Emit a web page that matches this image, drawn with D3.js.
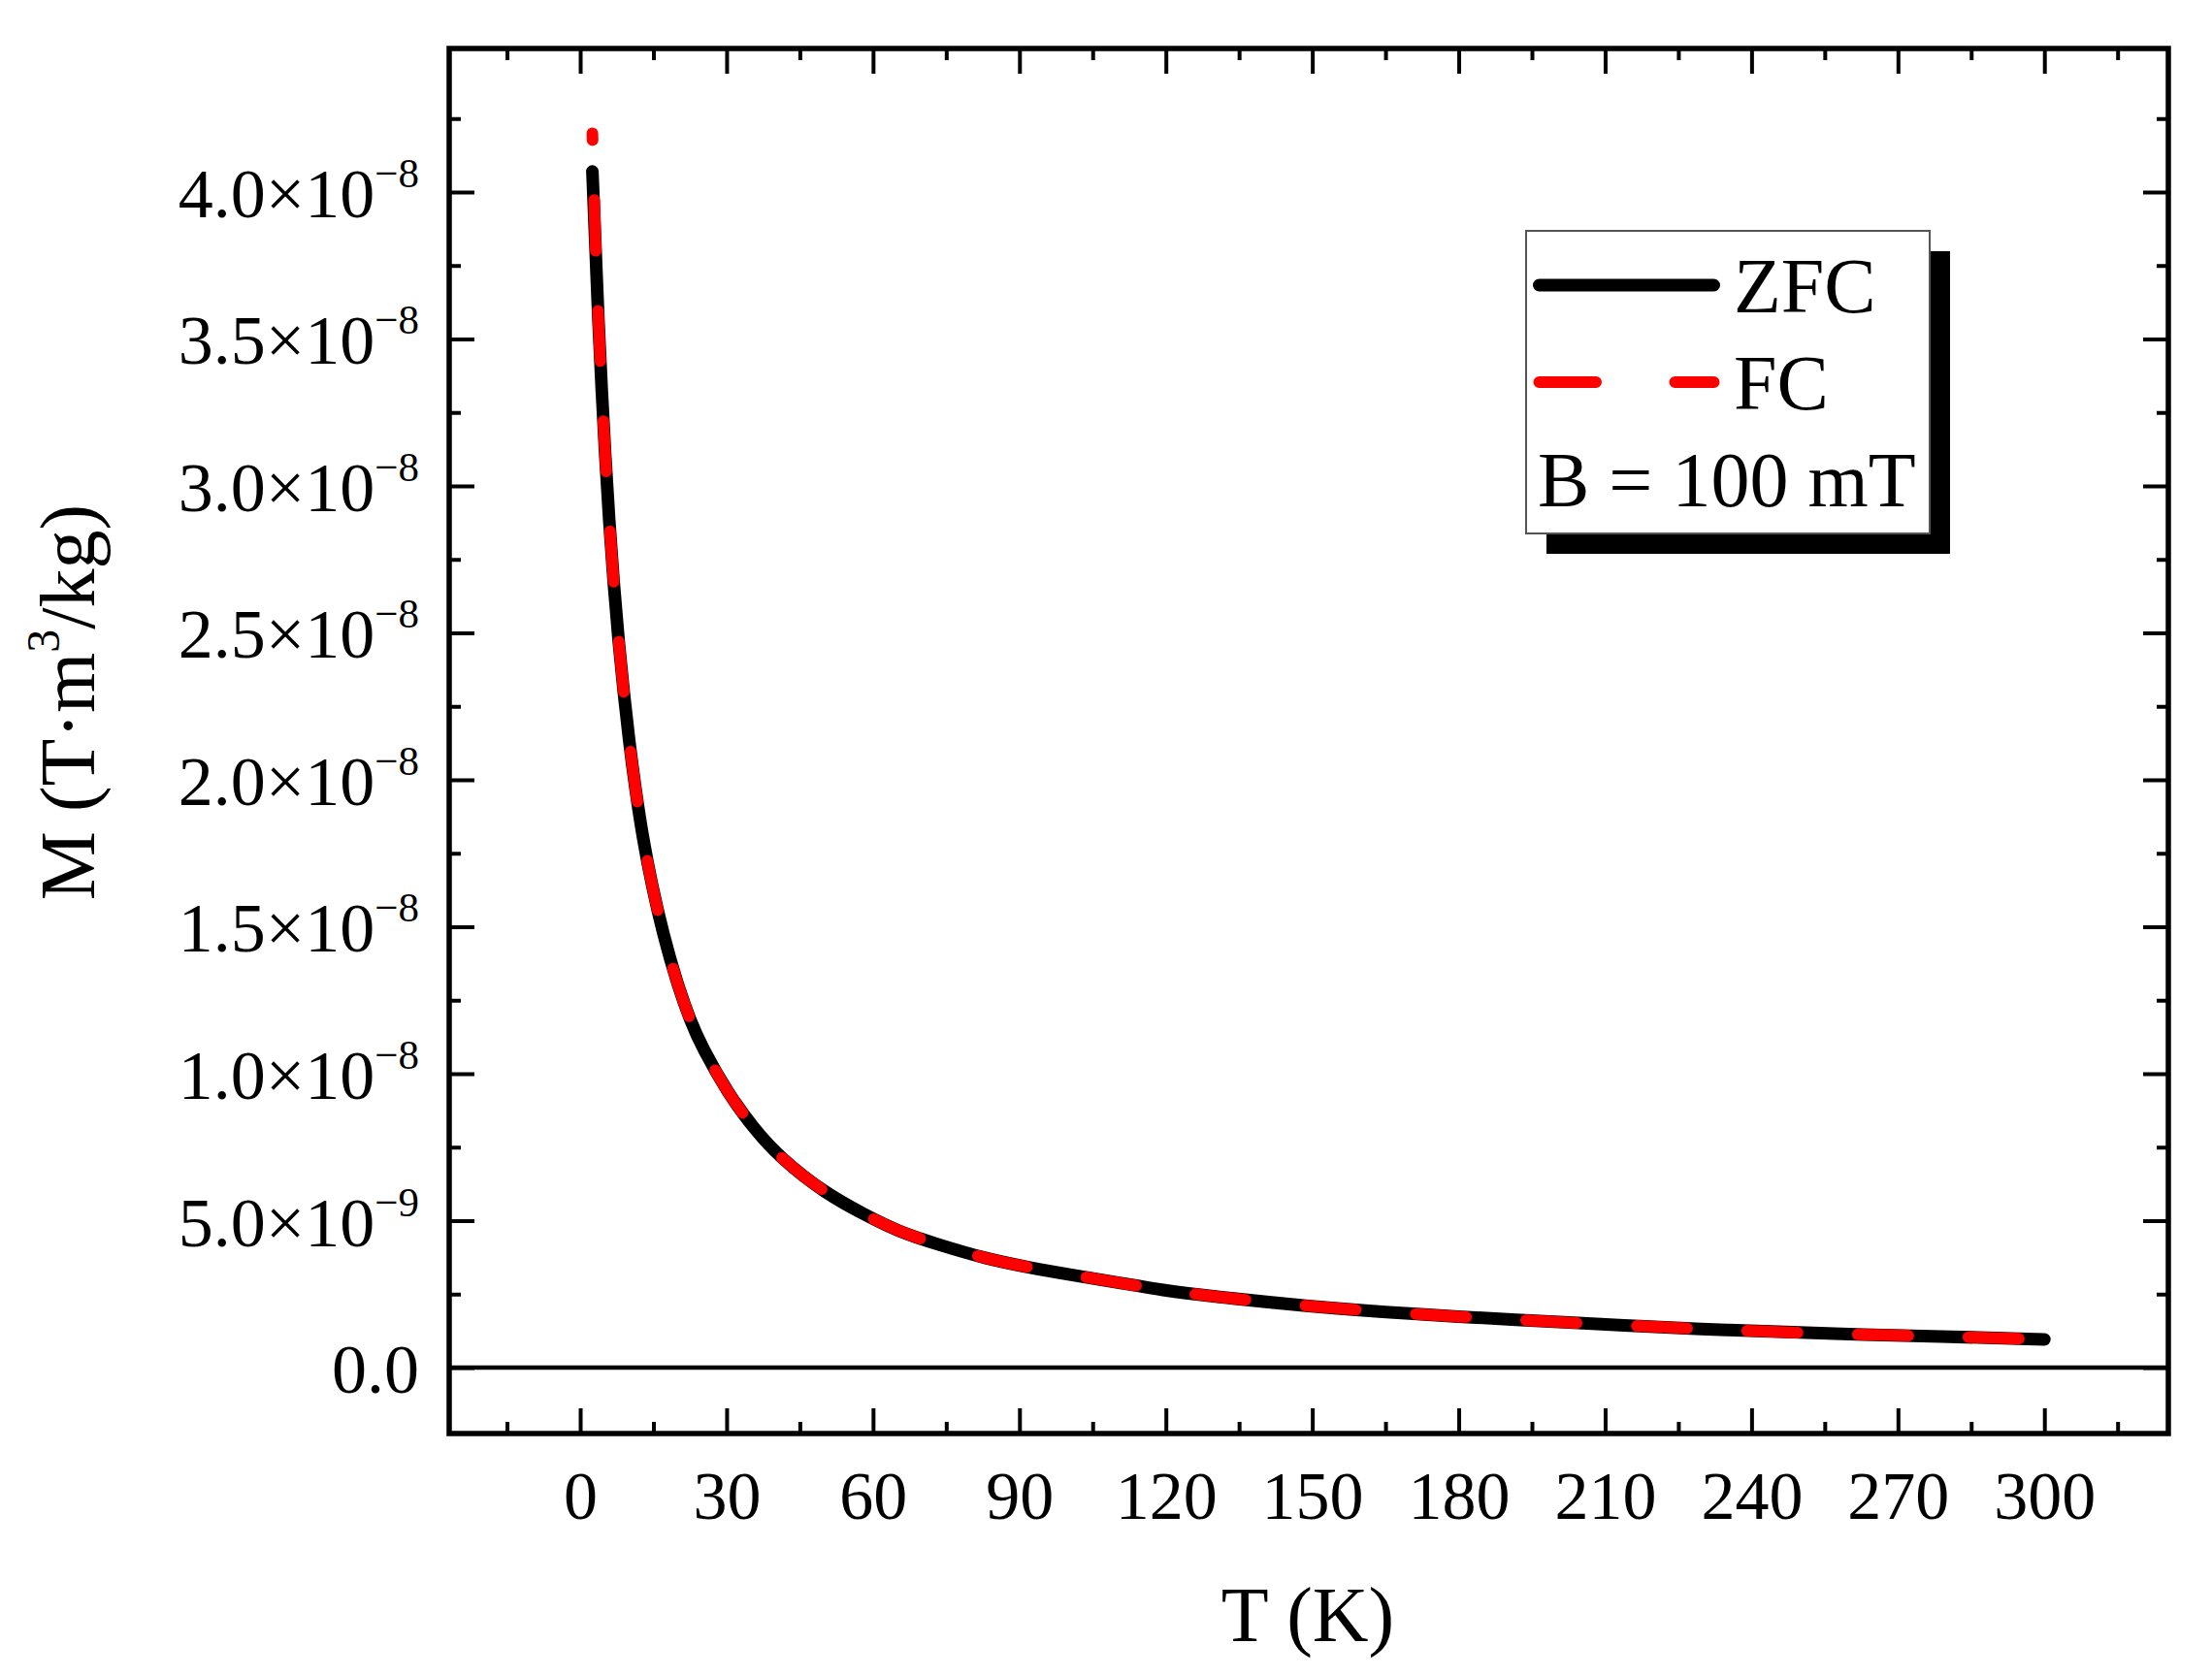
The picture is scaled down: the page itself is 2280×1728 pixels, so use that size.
<!DOCTYPE html>
<html>
<head>
<meta charset="utf-8">
<script src="https://cdn.jsdelivr.net/npm/d3@7"></script>
<style>
  html, body { margin: 0; padding: 0; background: #fff; }
  svg { display: block; }
  text { font-family: "Liberation Serif", "Times New Roman", serif; fill: #000; }
</style>
</head>
<body>
<svg id="chart" width="2280" height="1728"></svg>
<script>
// ---- data ----
const T_K = [2.5, 3.1, 3.75, 4.4, 5.1, 5.9, 6.85, 7.9, 8.9, 10.0, 11.3, 12.8, 14.7, 17.0, 19.8, 22.6, 25.0,
             30.2, 35.5, 40.8, 50.1, 58.1, 65.3, 73.3, 83.2, 91.8, 101.1, 111.1, 119.0, 129.6,
             148.7, 171.0, 191.3, 214.2, 235.2, 256.9, 279.1, 300];
const M_ZFC = [4.07e-8, 3.83e-8, 3.55e-8, 3.33e-8, 3.11e-8, 2.89e-8, 2.67e-8, 2.465e-8, 2.30e-8, 2.135e-8,
               1.97e-8, 1.805e-8, 1.64e-8, 1.475e-8, 1.31e-8, 1.178e-8, 1.089e-8,
               9.35e-9, 8.15e-9, 7.16e-9, 5.94e-9, 5.22e-9, 4.62e-9, 4.19e-9, 3.70e-9, 3.41e-9, 3.14e-9,
               2.87e-9, 2.64e-9, 2.42e-9, 2.09e-9, 1.815e-9, 1.63e-9, 1.43e-9, 1.27e-9, 1.145e-9, 1.06e-9, 0.96e-9];
const M_FC  = [4.20e-8, 3.83e-8, 3.55e-8, 3.33e-8, 3.11e-8, 2.89e-8, 2.67e-8, 2.465e-8, 2.30e-8, 2.135e-8,
               1.97e-8, 1.805e-8, 1.64e-8, 1.475e-8, 1.31e-8, 1.178e-8, 1.089e-8,
               9.35e-9, 8.15e-9, 7.16e-9, 5.94e-9, 5.22e-9, 4.62e-9, 4.19e-9, 3.70e-9, 3.41e-9, 3.14e-9,
               2.87e-9, 2.64e-9, 2.42e-9, 2.09e-9, 1.815e-9, 1.63e-9, 1.43e-9, 1.27e-9, 1.145e-9, 1.06e-9, 0.96e-9];

const xMajorTicks = [0, 30, 60, 90, 120, 150, 180, 210, 240, 270, 300];
const xMinorTicks = [-15, 15, 45, 75, 105, 135, 165, 195, 225, 255, 285, 315];
const yMajorTicks = [0, 0.5e-8, 1.0e-8, 1.5e-8, 2.0e-8, 2.5e-8, 3.0e-8, 3.5e-8, 4.0e-8];
const yMinorTicks = [0.25e-8, 0.75e-8, 1.25e-8, 1.75e-8, 2.25e-8, 2.75e-8, 3.25e-8, 3.75e-8, 4.25e-8];
const yTickMantissa = ["0.0", "5.0×10", "1.0×10", "1.5×10", "2.0×10", "2.5×10", "3.0×10", "3.5×10", "4.0×10"];
const yTickExponent = ["", "−9", "−8", "−8", "−8", "−8", "−8", "−8", "−8"];

const legendLabels = ["ZFC", "FC"];
const legendNote = "B = 100 mT";
const xTitle = "T (K)";

// ---- layout ----
const L = 463, R = 2235, TOP = 50, BOT = 1478;
const svg = d3.select("#chart");

const x = d3.scaleLinear().domain([-26.84, 325.4]).range([L, R]);
const y = d3.scaleLinear().domain([-0.2244e-8, 4.4884e-8]).range([BOT, TOP]);

const MAJ = 26, MIN = 12;

function styleAxis(g) {
  g.select(".domain").remove();
  g.selectAll(".tick line").attr("stroke", "#000").attr("stroke-width", 4);
}

// bottom
svg.append("g").attr("transform", `translate(0,${BOT})`)
  .call(d3.axisBottom(x).tickValues(xMinorTicks).tickSize(-MIN).tickFormat(""))
  .call(styleAxis);
const gB = svg.append("g").attr("transform", `translate(0,${BOT})`)
  .call(d3.axisBottom(x).tickValues(xMajorTicks).tickSize(-MAJ).tickFormat(d3.format("d")))
  .call(styleAxis);
gB.selectAll(".tick text")
  .attr("y", 88).attr("dy", 0)
  .attr("font-size", 70)
  .style("font-family", '"Liberation Serif", "Times New Roman", serif')
  .attr("fill", "#000");

// top
svg.append("g").attr("transform", `translate(0,${TOP})`)
  .call(d3.axisTop(x).tickValues(xMinorTicks).tickSize(-MIN).tickFormat(""))
  .call(styleAxis);
svg.append("g").attr("transform", `translate(0,${TOP})`)
  .call(d3.axisTop(x).tickValues(xMajorTicks).tickSize(-MAJ).tickFormat(""))
  .call(styleAxis);

// left
svg.append("g").attr("transform", `translate(${L},0)`)
  .call(d3.axisLeft(y).tickValues(yMinorTicks).tickSize(-MIN).tickFormat(""))
  .call(styleAxis);
svg.append("g").attr("transform", `translate(${L},0)`)
  .call(d3.axisLeft(y).tickValues(yMajorTicks).tickSize(-MAJ).tickFormat(""))
  .call(styleAxis);

// right
svg.append("g").attr("transform", `translate(${R},0)`)
  .call(d3.axisRight(y).tickValues(yMinorTicks).tickSize(-MIN).tickFormat(""))
  .call(styleAxis);
svg.append("g").attr("transform", `translate(${R},0)`)
  .call(d3.axisRight(y).tickValues(yMajorTicks).tickSize(-MAJ).tickFormat(""))
  .call(styleAxis);

// y tick labels with superscripts
const yl = svg.append("g");
yMajorTicks.forEach((v, i) => {
  const t = yl.append("text")
    .attr("x", 432).attr("y", y(v) + 26)
    .attr("text-anchor", "end")
    .attr("font-size", 72);
  t.append("tspan").text(yTickMantissa[i]);
  if (yTickExponent[i]) {
    t.append("tspan").attr("dy", -31).attr("font-size", 43).text(yTickExponent[i]);
  }
});

// zero line
svg.append("line")
  .attr("x1", L).attr("x2", R).attr("y1", y(0)).attr("y2", y(0))
  .attr("stroke", "#000").attr("stroke-width", 4.3);

// curves
const line = d3.line().curve(d3.curveBasis);
const zfcPts = T_K.map((t, i) => [x(t), y(M_ZFC[i])]);
const fcPts = T_K.map((t, i) => [x(t), y(M_FC[i])]);

svg.append("path")
  .attr("d", line(zfcPts))
  .attr("fill", "none").attr("stroke", "#000").attr("stroke-width", 13)
  .attr("stroke-linecap", "round").attr("stroke-linejoin", "round");
svg.append("path")
  .attr("d", line(fcPts))
  .attr("fill", "none").attr("stroke", "#ff0000").attr("stroke-width", 12)
  .attr("stroke-dasharray", "52,62").attr("stroke-dashoffset", 45)
  .attr("stroke-linecap", "round").attr("stroke-linejoin", "round");

// frame
svg.append("rect")
  .attr("x", L).attr("y", TOP).attr("width", R - L).attr("height", BOT - TOP)
  .attr("fill", "none").attr("stroke", "#000").attr("stroke-width", 5.5);

// legend
const lg = svg.append("g");
lg.append("rect").attr("x", 1594).attr("y", 259).attr("width", 416).attr("height", 312).attr("fill", "#000");
lg.append("rect").attr("x", 1573).attr("y", 238).attr("width", 416).attr("height", 312)
  .attr("fill", "#fff").attr("stroke", "#555").attr("stroke-width", 2);
lg.append("line").attr("x1", 1586.5).attr("x2", 1766.5).attr("y1", 294).attr("y2", 294)
  .attr("stroke", "#000").attr("stroke-width", 13).attr("stroke-linecap", "round");
lg.append("line").attr("x1", 1586.5).attr("x2", 1766.5).attr("y1", 394).attr("y2", 394)
  .attr("stroke", "#ff0000").attr("stroke-width", 12).attr("stroke-linecap", "round")
  .attr("stroke-dasharray", "58.5,81.5");
lg.append("text").attr("x", 1787).attr("y", 322).attr("font-size", 80).text(legendLabels[0]);
lg.append("text").attr("x", 1787).attr("y", 422).attr("font-size", 80).text(legendLabels[1]);
lg.append("text").attr("x", 1585).attr("y", 522).attr("font-size", 80).text(legendNote);

// axis titles
svg.append("text")
  .attr("x", 1348).attr("y", 1692).attr("text-anchor", "middle").attr("font-size", 80)
  .text(xTitle);

const yt = svg.append("text")
  .attr("transform", "translate(97,724) rotate(-90)")
  .attr("text-anchor", "middle").attr("font-size", 80);
yt.append("tspan").text("M (T·m");
yt.append("tspan").attr("dy", -36).attr("font-size", 48).text("3");
yt.append("tspan").attr("dy", 36).text("/kg)");
</script>
</body>
</html>
